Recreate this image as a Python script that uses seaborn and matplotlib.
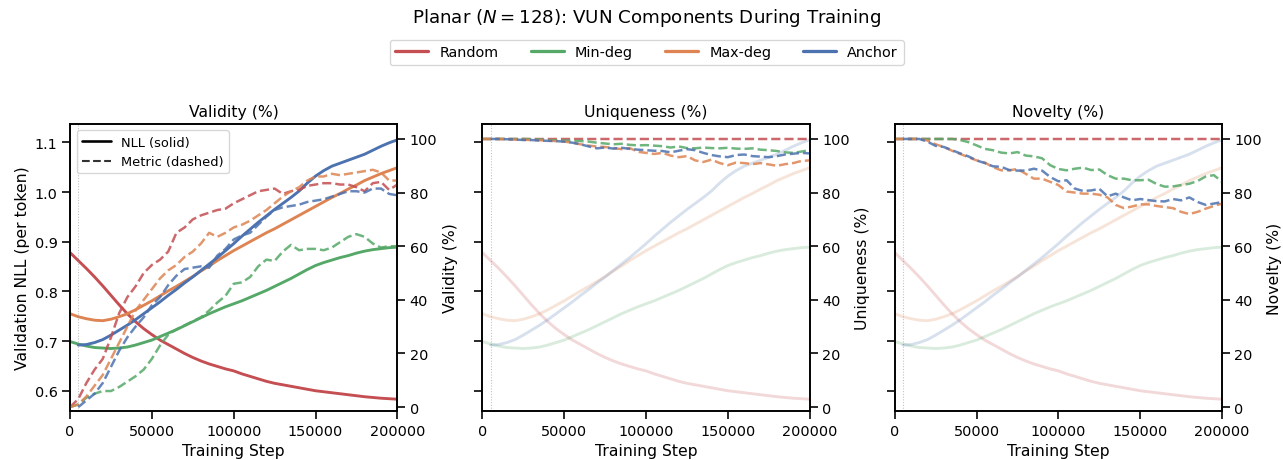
import numpy as np
import matplotlib
matplotlib.use("Agg")
import matplotlib.pyplot as plt
from matplotlib.lines import Line2D
import seaborn as sns

# ---------------- data ----------------
methods = ["Random", "Min-deg", "Max-deg", "Anchor"]
WARMUP_STEP = 5000

steps = [0, 5000, 10000, 15000, 20000, 25000, 30000, 35000, 40000, 45000, 50000,
         55000, 60000, 65000, 70000, 75000, 80000, 85000, 90000, 95000, 100000,
         105000, 110000, 115000, 120000, 125000, 130000, 135000, 140000, 145000, 150000,
         155000, 160000, 165000, 170000, 175000, 180000, 185000, 190000, 195000, 200000]
anchor_steps = steps[1:]

# Validation NLL (per token)
nll_random = [0.878, 0.862, 0.846, 0.829, 0.811, 0.792, 0.773, 0.755, 0.739, 0.725, 0.713,
              0.702, 0.693, 0.684, 0.675, 0.667, 0.660, 0.654, 0.649, 0.644, 0.640,
              0.634, 0.629, 0.624, 0.619, 0.615, 0.612, 0.609, 0.606, 0.603, 0.600,
              0.598, 0.596, 0.594, 0.592, 0.590, 0.588, 0.5865, 0.585, 0.584, 0.583]
nll_mindeg = [0.699, 0.694, 0.690, 0.687, 0.686, 0.685, 0.686, 0.688, 0.692, 0.697, 0.702,
              0.709, 0.716, 0.723, 0.731, 0.739, 0.747, 0.755, 0.762, 0.769, 0.775,
              0.781, 0.788, 0.795, 0.802, 0.810, 0.818, 0.826, 0.835, 0.844, 0.852,
              0.858, 0.863, 0.868, 0.872, 0.877, 0.881, 0.884, 0.886, 0.888, 0.889]
nll_maxdeg = [0.755, 0.749, 0.745, 0.742, 0.741, 0.744, 0.749, 0.755, 0.763, 0.772, 0.781,
              0.791, 0.801, 0.810, 0.820, 0.830, 0.841, 0.851, 0.862, 0.872, 0.882,
              0.891, 0.900, 0.909, 0.918, 0.926, 0.935, 0.944, 0.953, 0.962, 0.971,
              0.980, 0.989, 0.997, 1.006, 1.014, 1.023, 1.030, 1.037, 1.043, 1.049]
nll_anchor = [0.692, 0.693, 0.697, 0.703, 0.712, 0.722, 0.732, 0.743, 0.755, 0.767,
              0.779, 0.792, 0.804, 0.817, 0.829, 0.842, 0.855, 0.868, 0.882, 0.896,
              0.911, 0.925, 0.939, 0.952, 0.965, 0.977, 0.989, 1.002, 1.018, 1.032,
              1.043, 1.052, 1.058, 1.064, 1.070, 1.076, 1.084, 1.092, 1.099, 1.105]

# Validity (%)
val_random = [0, 3, 9, 14, 18, 26, 35, 41, 45, 50, 53, 55, 58, 65, 67, 70, 71.5, 72.5, 73.5, 74, 76,
              77.5, 79, 80.5, 81, 81.5, 79.5, 80.5, 81, 82.5, 83, 83.5, 83.5, 83, 83, 82, 80.5, 83.5, 84, 81, 83]
val_mindeg = [0, 1, 3.5, 5, 6, 6, 7.5, 9.5, 11.5, 14, 18, 23, 27, 29, 30.5, 32, 33.5, 36, 39, 41.5, 46,
              46.5, 48.5, 52.5, 55, 54.5, 58, 60.5, 58.5, 59, 59, 58.5, 59.5, 61.5, 63.5, 64.5, 63.5, 61, 59.5, 60, 60]
val_maxdeg = [0, 1, 4, 8, 12, 18, 24, 30, 36, 40, 44, 48, 51, 53, 56, 58, 61, 65, 63.5, 65, 67,
              68, 69.5, 71.5, 73.5, 76, 78.5, 80.5, 82, 84.5, 86, 86, 87, 86.5, 87, 87.5, 88, 88.5, 87.5, 84.5, 84.5]
val_anchor = [0, 2.5, 5, 9, 15, 21, 26, 30, 33.5, 38, 41, 45.5, 49, 51.5, 52, 52.5, 52, 56.5, 59, 62.5,
              64, 65, 68, 71, 73.5, 74.5, 75, 75.5, 76.5, 77, 77.5, 78.5, 79.5, 80.5, 80.5, 80, 81.5, 81.5, 79.5, 79]

# Uniqueness (%)
uniq_random = [100] * 41
uniq_mindeg = [100, 100, 100, 100, 100, 100, 99.9, 99.8, 99.6, 99.5, 99.4, 99.3, 99.2, 99.0, 98.6, 98.3,
               98.0, 98.2, 97.8, 97.6, 97.7, 97.5, 97.3, 96.8, 97.2, 96.6, 96.5, 96.8, 96.6, 96.5, 96.7,
               96.4, 96.3, 96.5, 96.0, 95.8, 95.5, 95.0, 94.8, 95.3, 95.8]
uniq_maxdeg = [100, 100, 100, 99.9, 99.8, 99.7, 99.6, 99.5, 99.4, 99.2, 99.0, 98.6, 98.0, 97.5, 97.2, 97.0,
               96.6, 96.2, 96.6, 95.2, 94.8, 94.4, 94.8, 93.8, 93.2, 93.6, 92.0, 91.4, 92.3, 91.0, 90.2,
               91.2, 91.0, 90.6, 91.0, 90.5, 90.0, 90.6, 91.0, 91.8, 92.0]
uniq_anchor = [100, 100, 99.9, 99.8, 99.6, 99.6, 99.4, 99.3, 99.2, 99.0, 98.6, 98.0, 97.2, 96.5, 96.8,
               96.4, 96.7, 96.3, 96.0, 95.8, 95.6, 95.5, 95.0, 95.6, 96.2, 95.8, 94.8, 94.0, 93.5, 93.2,
               94.0, 94.2, 93.6, 93.4, 93.2, 93.6, 94.2, 94.5, 94.8, 94.6]

# Novelty (%)
nov_random = [100] * 41
nov_mindeg = [100, 100, 100, 100, 100, 100, 100, 100, 99.6, 98.8, 97.6, 96.3, 95.8, 94.9, 94.6, 95.1,
              93.8, 93.5, 92.8, 90.2, 88.8, 88.3, 88.9, 89.3, 88.4, 88.6, 86.5, 85.2, 85.2, 84.6, 84.6,
              84.8, 83.2, 82.2, 82.3, 82.8, 83.3, 84.3, 86.0, 86.5, 84.0]
nov_maxdeg = [100, 100, 100, 100, 99.4, 98.0, 97.0, 95.6, 94.4, 93.2, 92.0, 91.2, 89.5, 88.3, 88.3, 88.8,
              87.0, 85.2, 85.2, 84.0, 82.8, 80.4, 80.0, 79.6, 79.6, 79.2, 78.2, 75.4, 74.2, 74.8, 75.6,
              75.6, 75.0, 74.6, 74.2, 72.8, 72.0, 72.8, 74.0, 75.0, 75.9]
nov_anchor = [100, 100, 100, 99.0, 97.4, 97.0, 95.8, 94.6, 93.5, 92.0, 91.0, 89.8, 89.6, 88.4, 88.2,
              88.2, 88.9, 88.2, 85.8, 84.2, 84.6, 81.5, 80.6, 80.8, 81.4, 78.6, 79.6, 78.2, 77.1, 77.6,
              77.2, 76.8, 76.7, 77.6, 77.1, 78.2, 76.5, 75.4, 75.9, 76.5]

panel_titles = ["Validity (%)", "Uniqueness (%)", "Novelty (%)"]
nll_series = [nll_random, nll_mindeg, nll_maxdeg, nll_anchor]
series_x = [steps, steps, steps, anchor_steps]
metric_series = [
    [val_random, val_mindeg, val_maxdeg, val_anchor],
    [uniq_random, uniq_mindeg, uniq_maxdeg, uniq_anchor],
    [nov_random, nov_mindeg, nov_maxdeg, nov_anchor],
]

# ---------------- style ----------------
sns.set_theme(context="notebook", style="ticks")
plt.rcParams["font.family"] = ["DejaVu Sans"]
plt.rcParams.update({
    "text.color": "black", "axes.labelcolor": "black", "axes.edgecolor": "black",
    "xtick.color": "black", "ytick.color": "black",
})
deep = sns.color_palette("deep")
colors = [deep[3], deep[2], deep[1], deep[0]]

DPI = 94
fig, axes = plt.subplots(1, 3, figsize=(1283 / DPI, 461 / DPI), sharey=True)
fig.subplots_adjust(left=0.0546, right=0.9525, top=0.729, bottom=0.106, wspace=0.26)

for i, ax in enumerate(axes):
    alpha = 1.0 if i == 0 else 0.22
    for xs, ys, c in zip(series_x, nll_series, colors):
        sns.lineplot(x=xs, y=ys, ax=ax, color=c, linewidth=2.2, alpha=alpha, legend=False)
    ax.axvline(WARMUP_STEP, color="gray", linestyle=":", linewidth=0.8, alpha=0.5)
    ax.set_xlim(0, 200000)
    ax.set_ylim(0.559, 1.137)
    ax.set_xticks([0, 50000, 100000, 150000, 200000])
    ax.set_xlabel("Training Step")
    ax.set_title(panel_titles[i], fontsize=12)

    tw = ax.twinx()
    for xs, ys, c in zip(series_x, metric_series[i], colors):
        sns.lineplot(x=xs, y=ys, ax=tw, color=c, linewidth=1.9, linestyle="--",
                     alpha=0.85, legend=False)
    tw.set_ylim(-1.5, 105.6)
    tw.set_yticks([0, 20, 40, 60, 80, 100])
    tw.set_ylabel(panel_titles[i])
    for s in tw.spines.values():
        s.set_visible(True)

    if i == 0:
        ax.set_ylabel("Validation NLL (per token)")
        style_handles = [Line2D([], [], color="black", lw=2, ls="-"),
                         Line2D([], [], color="black", lw=1.6, ls="--", alpha=0.8)]
        tw.legend(style_handles, ["NLL (solid)", "Metric (dashed)"], loc="upper left",
                  fontsize=10, frameon=True, handlelength=2.2)

for ax in axes:
    for s in ax.spines.values():
        s.set_visible(True)

handles = [Line2D([], [], color=c, lw=2.5) for c in colors]
fig.legend(handles, methods, loc="center", bbox_to_anchor=(0.504, 0.884), ncol=4,
           fontsize=11, frameon=True, columnspacing=2.2, handlelength=2.3)
fig.suptitle("Planar ($N = 128$): VUN Components During Training", fontsize=14, x=0.504, y=0.961,
             va="center")

fig.savefig("out.png", dpi=DPI)
